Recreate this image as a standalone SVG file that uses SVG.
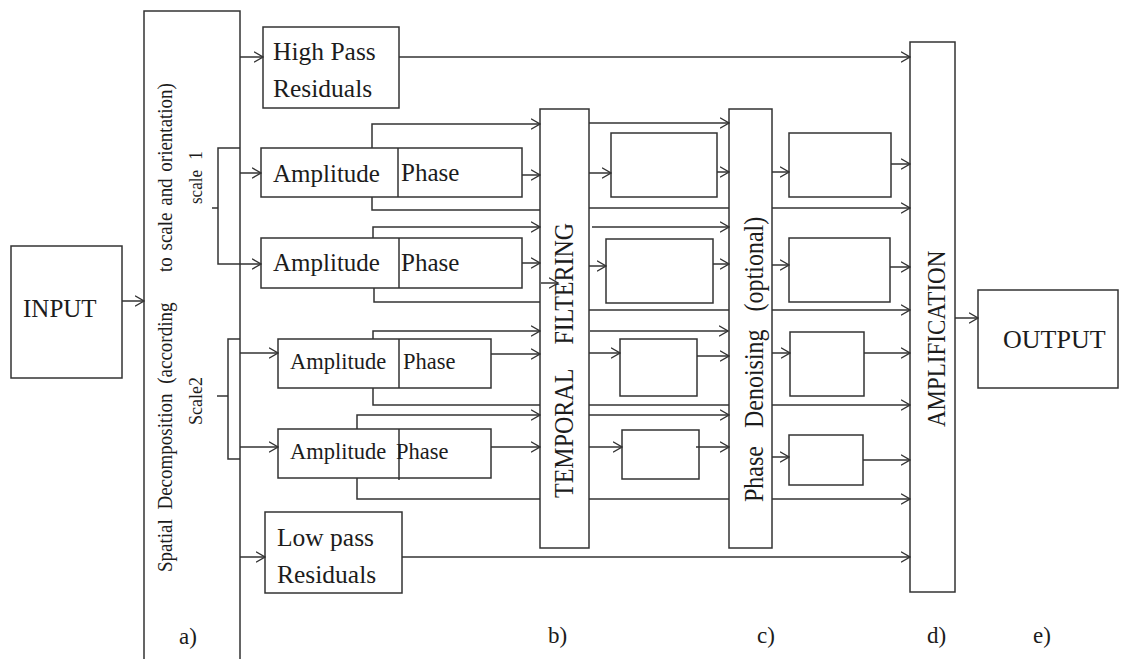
<svg xmlns="http://www.w3.org/2000/svg" width="1121" height="659" viewBox="0 0 1121 659">
<style>
.box{fill:#fff;stroke:#333;stroke-width:1.5}
.ln{fill:none;stroke:#333;stroke-width:1.5}
.ar{fill:none;stroke:#333;stroke-width:1.5;marker-end:url(#arr)}
.t{font-family:"Liberation Serif","Times New Roman",serif;fill:#1c1c1c}
</style>
<defs>
<marker id="arr" markerUnits="userSpaceOnUse" viewBox="0 0 10 12" refX="9.5" refY="6" markerWidth="10" markerHeight="12" orient="auto">
<path d="M0.5,0.8 L9.5,6 L0.5,11.2" fill="none" stroke="#333" stroke-width="1.4"/>
</marker>
</defs>
<rect width="1121" height="659" fill="#fff"/>

<g id="input">
<rect class="box" x="11" y="246" width="111" height="132"/>
<text class="t" x="23" y="317" font-size="25">INPUT</text>
</g>

<g id="spatial">
<rect class="box" x="144" y="11" width="96" height="660"/>
<text class="t" font-size="19" word-spacing="5" transform="translate(172,572) rotate(-90) scale(1,1.12)">Spatial Decomposition (according</text>
<text class="t" font-size="19" word-spacing="2" transform="translate(172,272) rotate(-90) scale(1,1.12)">to scale and orientation)</text>
<text class="t" font-size="17" word-spacing="6" transform="translate(202,204) rotate(-90) scale(1,1.1)">scale 1</text>
<text class="t" font-size="18" transform="translate(202,425) rotate(-90) scale(1,1.1)">Scale2</text>
</g>

<g id="highpass">
<rect class="box" x="263" y="27" width="136" height="81"/>
<text class="t" x="273" y="60" font-size="25.5">High Pass</text>
<text class="t" x="273" y="97" font-size="25.5">Residuals</text>
</g>

<g id="s1a">
<rect class="box" x="261" y="148" width="261" height="49"/>
<line class="ln" x1="398" y1="148" x2="398" y2="197"/>
<text class="t" x="273" y="182" font-size="25">Amplitude</text>
<text class="t" x="401" y="181" font-size="25">Phase</text>
</g>

<g id="s1b">
<rect class="box" x="261" y="238" width="261" height="50"/>
<line class="ln" x1="399" y1="238" x2="399" y2="288"/>
<text class="t" x="273" y="271" font-size="25">Amplitude</text>
<text class="t" x="401" y="271" font-size="25">Phase</text>
</g>

<g id="s2a">
<rect class="box" x="278" y="339" width="213" height="49"/>
<line class="ln" x1="399" y1="339" x2="399" y2="388"/>
<text class="t" x="290" y="369" font-size="22.5">Amplitude</text>
<text class="t" x="403" y="369" font-size="22.5">Phase</text>
</g>

<g id="s2b">
<rect class="box" x="278" y="429" width="213" height="49"/>
<line class="ln" x1="399" y1="429" x2="399" y2="480"/>
<text class="t" x="290" y="459" font-size="22.5">Amplitude</text>
<text class="t" x="396" y="459" font-size="22.5">Phase</text>
</g>

<g id="lowpass">
<rect class="box" x="265" y="512" width="137" height="81"/>
<text class="t" x="277" y="546" font-size="25.5">Low pass</text>
<text class="t" x="277" y="583" font-size="25.5">Residuals</text>
</g>

<g id="temporal">
<rect class="box" x="540" y="109" width="49" height="439"/>
<text class="t" font-size="24" word-spacing="19" transform="translate(573,498) rotate(-90) scale(1,1.12)">TEMPORAL FILTERING</text>
</g>

<g id="tf-boxes">
<rect class="box" x="611" y="133" width="106" height="64"/>
<rect class="box" x="606" y="239" width="107" height="64"/>
<rect class="box" x="620" y="339" width="77" height="57"/>
<rect class="box" x="622" y="430" width="77" height="49"/>
</g>

<g id="denoise">
<rect class="box" x="729" y="109" width="43" height="439"/>
<text class="t" font-size="24" word-spacing="12" transform="translate(763,502) rotate(-90) scale(1,1.1)">Phase Denoising (optional)</text>
</g>

<g id="pd-boxes">
<rect class="box" x="789" y="133" width="102" height="64"/>
<rect class="box" x="789" y="238" width="101" height="64"/>
<rect class="box" x="790" y="332" width="74" height="64"/>
<rect class="box" x="789" y="435" width="74" height="50"/>
</g>

<g id="amplification">
<rect class="box" x="910" y="42" width="45" height="550"/>
<text class="t" font-size="23" transform="translate(945,427) rotate(-90) scale(1,1.12)">AMPLIFICATION</text>
</g>

<g id="output">
<rect class="box" x="978" y="290" width="140" height="98"/>
<text class="t" x="1003" y="348" font-size="26">OUTPUT</text>
</g>

<g id="labels">
<text class="t" x="179" y="644" font-size="23">a)</text>
<text class="t" x="548" y="643" font-size="23">b)</text>
<text class="t" x="757" y="643" font-size="23">c)</text>
<text class="t" x="927" y="643" font-size="23">d)</text>
<text class="t" x="1033" y="643" font-size="23">e)</text>
</g>

<g id="connectors">
<path class="ar" d="M122,301 H144"/>
<path class="ar" d="M240,57 H263"/>
<path class="ar" d="M240,173 H261"/>
<path class="ar" d="M240,148 H218 V264 H261"/>
<path class="ln" d="M212,208 H218"/>
<path class="ln" d="M240,339 H228 V459 H240"/>
<path class="ln" d="M217,396 H228" stroke="#7f93a3"/>
<path class="ar" d="M240,353 H278"/>
<path class="ar" d="M240,447 H278"/>
<path class="ar" d="M240,557 H265"/>

<path class="ar" d="M399,57 H910"/>

<path class="ar" d="M372,148 V124 H540"/>
<path class="ar" d="M522,175 H540"/>
<path class="ln" d="M372,197 V210 H540"/>
<path class="ar" d="M589,123 H729"/>
<path class="ar" d="M589,173 H611"/>
<path class="ar" d="M717,172 H729"/>
<path class="ln" d="M589,208 H729"/>
<path class="ar" d="M772,172 H789"/>
<path class="ar" d="M891,164 H910"/>
<path class="ar" d="M772,208 H910"/>

<path class="ar" d="M373,238 V227 H540"/>
<path class="ar" d="M522,263 H540"/>
<path class="ln" d="M374,288 V302 H540"/>
<path class="ar" d="M541,283 H558"/>
<path class="ar" d="M592,227 H729"/>
<path class="ar" d="M589,266 H606"/>
<path class="ar" d="M713,264 H729"/>
<path class="ln" d="M589,310 H729"/>
<path class="ar" d="M772,265 H789"/>
<path class="ar" d="M890,267 H910"/>
<path class="ar" d="M772,310 H910"/>

<path class="ar" d="M373,339 V331 H540"/>
<path class="ar" d="M491,354 H540"/>
<path class="ln" d="M373,388 V405 H540"/>
<path class="ar" d="M590,331 H728"/>
<path class="ar" d="M589,353 H620"/>
<path class="ar" d="M697,356 H729"/>
<path class="ln" d="M589,405 H729"/>
<path class="ar" d="M772,353 H790"/>
<path class="ar" d="M864,353 H910"/>
<path class="ar" d="M772,405 H910"/>

<path class="ar" d="M357,429 V415 H540"/>
<path class="ar" d="M491,447 H540"/>
<path class="ln" d="M357,478 V499 H540"/>
<path class="ar" d="M589,415 H729"/>
<path class="ar" d="M589,447 H622"/>
<path class="ar" d="M696,447 H729"/>
<path class="ln" d="M589,499 H729"/>
<path class="ar" d="M772,457 H789"/>
<path class="ar" d="M863,460 H910"/>
<path class="ar" d="M772,499 H910"/>

<path class="ar" d="M402,557 H910"/>
<path class="ar" d="M955,318 H978"/>
</g>
</svg>
